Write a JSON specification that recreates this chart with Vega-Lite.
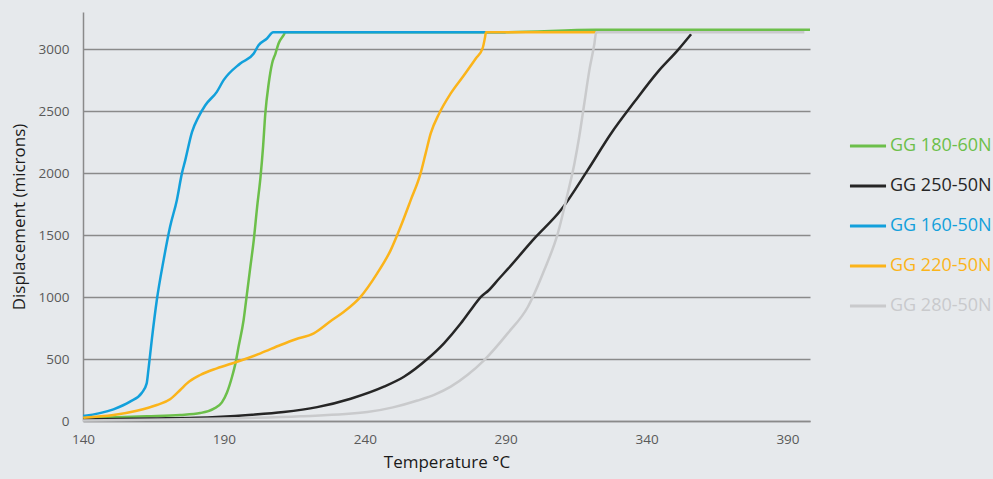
{
  "$schema": "https://vega.github.io/schema/vega-lite/v6.json",
  "width": 727,
  "height": 409,
  "autosize": {"type": "none"},
  "padding": {"left": 83, "top": 12, "right": 183, "bottom": 58},
  "background": "#e6e9ec",
  "config": {
    "view": {"stroke": null},
    "font": "Open Sans"
  },
  "data": {
    "values": [
      {"s": "GG 180-60N", "t": 140.1, "d": 22},
      {"s": "GG 180-60N", "t": 162.6, "d": 38},
      {"s": "GG 180-60N", "t": 174.5, "d": 48},
      {"s": "GG 180-60N", "t": 181.6, "d": 64},
      {"s": "GG 180-60N", "t": 186.3, "d": 98},
      {"s": "GG 180-60N", "t": 189.3, "d": 150},
      {"s": "GG 180-60N", "t": 191.1, "d": 230},
      {"s": "GG 180-60N", "t": 192.9, "d": 357},
      {"s": "GG 180-60N", "t": 194.1, "d": 465},
      {"s": "GG 180-60N", "t": 195.2, "d": 599},
      {"s": "GG 180-60N", "t": 197.0, "d": 815},
      {"s": "GG 180-60N", "t": 198.2, "d": 1030},
      {"s": "GG 180-60N", "t": 199.4, "d": 1245},
      {"s": "GG 180-60N", "t": 200.6, "d": 1460},
      {"s": "GG 180-60N", "t": 201.8, "d": 1728},
      {"s": "GG 180-60N", "t": 203.0, "d": 1970},
      {"s": "GG 180-60N", "t": 203.9, "d": 2212},
      {"s": "GG 180-60N", "t": 204.7, "d": 2481},
      {"s": "GG 180-60N", "t": 205.9, "d": 2723},
      {"s": "GG 180-60N", "t": 207.1, "d": 2885},
      {"s": "GG 180-60N", "t": 208.3, "d": 2965},
      {"s": "GG 180-60N", "t": 209.4, "d": 3046},
      {"s": "GG 180-60N", "t": 211.2, "d": 3113},
      {"s": "GG 180-60N", "t": 211.8, "d": 3137},
      {"s": "GG 180-60N", "t": 290, "d": 3137},
      {"s": "GG 180-60N", "t": 322, "d": 3156},
      {"s": "GG 180-60N", "t": 398, "d": 3156},

      {"s": "GG 250-50N", "t": 140, "d": 12},
      {"s": "GG 250-50N", "t": 163.8, "d": 20},
      {"s": "GG 250-50N", "t": 187.5, "d": 33},
      {"s": "GG 250-50N", "t": 200.0, "d": 50},
      {"s": "GG 250-50N", "t": 211.2, "d": 72},
      {"s": "GG 250-50N", "t": 223.1, "d": 112},
      {"s": "GG 250-50N", "t": 235.0, "d": 180},
      {"s": "GG 250-50N", "t": 246.8, "d": 277},
      {"s": "GG 250-50N", "t": 253.9, "d": 357},
      {"s": "GG 250-50N", "t": 262.2, "d": 500},
      {"s": "GG 250-50N", "t": 268.1, "d": 627},
      {"s": "GG 250-50N", "t": 274.1, "d": 788},
      {"s": "GG 250-50N", "t": 277.6, "d": 895},
      {"s": "GG 250-50N", "t": 281.2, "d": 1002},
      {"s": "GG 250-50N", "t": 284.0, "d": 1055},
      {"s": "GG 250-50N", "t": 287.7, "d": 1150},
      {"s": "GG 250-50N", "t": 290.7, "d": 1225},
      {"s": "GG 250-50N", "t": 300.2, "d": 1473},
      {"s": "GG 250-50N", "t": 309.6, "d": 1702},
      {"s": "GG 250-50N", "t": 319.1, "d": 2024},
      {"s": "GG 250-50N", "t": 327.4, "d": 2320},
      {"s": "GG 250-50N", "t": 335.7, "d": 2575},
      {"s": "GG 250-50N", "t": 344.0, "d": 2817},
      {"s": "GG 250-50N", "t": 351.1, "d": 2992},
      {"s": "GG 250-50N", "t": 355.8, "d": 3120},

      {"s": "GG 160-50N", "t": 140.1, "d": 40},
      {"s": "GG 160-50N", "t": 150.8, "d": 94},
      {"s": "GG 160-50N", "t": 156.7, "d": 156},
      {"s": "GG 160-50N", "t": 160.9, "d": 228},
      {"s": "GG 160-50N", "t": 162.6, "d": 304},
      {"s": "GG 160-50N", "t": 163.2, "d": 411},
      {"s": "GG 160-50N", "t": 164.4, "d": 653},
      {"s": "GG 160-50N", "t": 166.2, "d": 976},
      {"s": "GG 160-50N", "t": 168.6, "d": 1298},
      {"s": "GG 160-50N", "t": 170.9, "d": 1567},
      {"s": "GG 160-50N", "t": 173.3, "d": 1782},
      {"s": "GG 160-50N", "t": 175.1, "d": 1998},
      {"s": "GG 160-50N", "t": 176.3, "d": 2105},
      {"s": "GG 160-50N", "t": 178.7, "d": 2333},
      {"s": "GG 160-50N", "t": 181.0, "d": 2454},
      {"s": "GG 160-50N", "t": 183.4, "d": 2548},
      {"s": "GG 160-50N", "t": 187.5, "d": 2656},
      {"s": "GG 160-50N", "t": 189.9, "d": 2750},
      {"s": "GG 160-50N", "t": 195.8, "d": 2885},
      {"s": "GG 160-50N", "t": 200.6, "d": 2965},
      {"s": "GG 160-50N", "t": 202.3, "d": 3032},
      {"s": "GG 160-50N", "t": 205.3, "d": 3086},
      {"s": "GG 160-50N", "t": 207.5, "d": 3137},
      {"s": "GG 160-50N", "t": 290, "d": 3137},

      {"s": "GG 220-50N", "t": 140.1, "d": 27},
      {"s": "GG 220-50N", "t": 150.8, "d": 48},
      {"s": "GG 220-50N", "t": 159.1, "d": 83},
      {"s": "GG 220-50N", "t": 166.2, "d": 129},
      {"s": "GG 220-50N", "t": 170.9, "d": 175},
      {"s": "GG 220-50N", "t": 174.5, "d": 250},
      {"s": "GG 220-50N", "t": 176.9, "d": 304},
      {"s": "GG 220-50N", "t": 181.6, "d": 371},
      {"s": "GG 220-50N", "t": 187.5, "d": 425},
      {"s": "GG 220-50N", "t": 194.7, "d": 478},
      {"s": "GG 220-50N", "t": 203.0, "d": 546},
      {"s": "GG 220-50N", "t": 210.1, "d": 613},
      {"s": "GG 220-50N", "t": 215.5, "d": 660},
      {"s": "GG 220-50N", "t": 221.9, "d": 707},
      {"s": "GG 220-50N", "t": 228.4, "d": 815},
      {"s": "GG 220-50N", "t": 232.6, "d": 882},
      {"s": "GG 220-50N", "t": 238.5, "d": 1002},
      {"s": "GG 220-50N", "t": 244.4, "d": 1191},
      {"s": "GG 220-50N", "t": 249.2, "d": 1379},
      {"s": "GG 220-50N", "t": 252.7, "d": 1567},
      {"s": "GG 220-50N", "t": 256.3, "d": 1782},
      {"s": "GG 220-50N", "t": 259.8, "d": 1998},
      {"s": "GG 220-50N", "t": 261.6, "d": 2159},
      {"s": "GG 220-50N", "t": 263.4, "d": 2320},
      {"s": "GG 220-50N", "t": 266.4, "d": 2481},
      {"s": "GG 220-50N", "t": 270.5, "d": 2643},
      {"s": "GG 220-50N", "t": 275.2, "d": 2790},
      {"s": "GG 220-50N", "t": 279.4, "d": 2925},
      {"s": "GG 220-50N", "t": 281.8, "d": 3006},
      {"s": "GG 220-50N", "t": 282.7, "d": 3099},
      {"s": "GG 220-50N", "t": 283.0, "d": 3137},
      {"s": "GG 220-50N", "t": 322.5, "d": 3137},

      {"s": "GG 280-50N", "t": 140, "d": 4},
      {"s": "GG 280-50N", "t": 190, "d": 20},
      {"s": "GG 280-50N", "t": 217.2, "d": 38},
      {"s": "GG 280-50N", "t": 240.9, "d": 72},
      {"s": "GG 280-50N", "t": 250.0, "d": 110},
      {"s": "GG 280-50N", "t": 258.7, "d": 165},
      {"s": "GG 280-50N", "t": 265.0, "d": 215},
      {"s": "GG 280-50N", "t": 270.5, "d": 277},
      {"s": "GG 280-50N", "t": 276.4, "d": 371},
      {"s": "GG 280-50N", "t": 282.4, "d": 492},
      {"s": "GG 280-50N", "t": 290.7, "d": 707},
      {"s": "GG 280-50N", "t": 297.9, "d": 922},
      {"s": "GG 280-50N", "t": 303.7, "d": 1218},
      {"s": "GG 280-50N", "t": 308.5, "d": 1514},
      {"s": "GG 280-50N", "t": 312.0, "d": 1836},
      {"s": "GG 280-50N", "t": 314.4, "d": 2078},
      {"s": "GG 280-50N", "t": 316.1, "d": 2293},
      {"s": "GG 280-50N", "t": 317.9, "d": 2562},
      {"s": "GG 280-50N", "t": 319.7, "d": 2831},
      {"s": "GG 280-50N", "t": 321.5, "d": 3046},
      {"s": "GG 280-50N", "t": 322.1, "d": 3137},
      {"s": "GG 280-50N", "t": 396, "d": 3137}
    ]
  },
  "mark": {"type": "line", "strokeWidth": 2.5, "interpolate": "monotone", "strokeJoin": "round"},
  "encoding": {
    "x": {
      "field": "t",
      "type": "quantitative",
      "scale": {"domain": [140, 398], "nice": false, "zero": false},
      "axis": {
        "title": "Temperature °C",
        "values": [140, 190, 240, 290, 340, 390],
        "format": "d",
        "grid": false,
        "ticks": false,
        "labelFlush": false,
        "labelOverlap": false,
        "domainColor": "#8a8a8a",
        "domainWidth": 1.5,
        "labelColor": "#595959",
        "labelFontSize": 13.5,
        "labelFont": "Open Sans",
        "labelPadding": 11,
        "titleFont": "Open Sans",
        "titleFontSize": 17,
        "titleFontWeight": "normal",
        "titleColor": "#1a1a1a",
        "titlePadding": 9
      }
    },
    "y": {
      "field": "d",
      "type": "quantitative",
      "scale": {"domain": [0, 3300], "nice": false},
      "axis": {
        "title": "Displacement (microns)",
        "values": [0, 500, 1000, 1500, 2000, 2500, 3000],
        "format": "d",
        "grid": true,
        "gridColor": "#8a8a8a",
        "gridWidth": 1.3,
        "ticks": false,
        "labelFlush": false,
        "domainColor": "#8a8a8a",
        "domainWidth": 1.5,
        "labelColor": "#595959",
        "labelFontSize": 13.5,
        "labelFont": "Open Sans",
        "labelPadding": 14,
        "titleFont": "Open Sans",
        "titleFontSize": 17,
        "titleFontWeight": "normal",
        "titleColor": "#1a1a1a",
        "titlePadding": 10
      }
    },
    "color": {
      "field": "s",
      "type": "nominal",
      "sort": null,
      "scale": {
        "domain": ["GG 180-60N", "GG 250-50N", "GG 160-50N", "GG 220-50N", "GG 280-50N"],
        "range": ["#6cbf4a", "#262626", "#12a0db", "#fbb41a", "#c9cacc"]
      },
      "legend": {
        "title": null,
        "orient": "none",
        "legendX": 765,
        "legendY": 114,
        "symbolType": "stroke",
        "symbolSize": 1300,
        "symbolStrokeWidth": 3,
        "labelFontSize": 18,
        "labelFont": "Open Sans",
        "labelOffset": 2,
        "rowPadding": 11,
        "labelLimit": 200,
        "encode": {
          "labels": {"update": {"fill": {"scale": "color", "field": "value"}}}
        }
      }
    }
  }
}
